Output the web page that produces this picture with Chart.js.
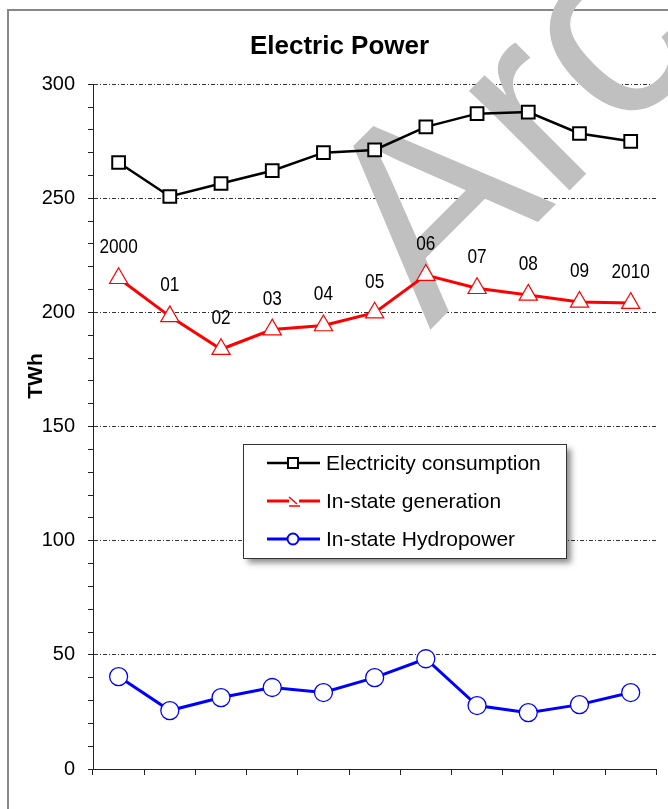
<!DOCTYPE html>
<html>
<head>
<meta charset="utf-8">
<script src="https://cdn.jsdelivr.net/npm/chart.js@4.4.1/dist/chart.umd.min.js"></script>
<style>
  body { margin: 0; background: #fff; }
  canvas { display: block; }
</style>
</head>
<body>
<canvas id="powerChart" width="668" height="809"></canvas>
<script>
const years = ['2000', '01', '02', '03', '04', '05', '06', '07', '08', '09', '2010'];
const consumption = [265.7, 250.8, 256.5, 262.1, 270.0, 271.2, 281.3, 287.1, 287.8, 278.4, 275.0];
const generation = [215.0, 198.3, 183.9, 192.5, 194.3, 199.9, 216.4, 210.6, 207.7, 204.6, 204.1];
const hydropower = [40.5, 25.6, 31.3, 35.7, 33.5, 40.0, 48.3, 27.8, 24.7, 28.2, 33.5];
const yLabels = [0, 50, 100, 150, 200, 250, 300];

const FONT = '"Liberation Sans", Arial, sans-serif';
Chart.defaults.font.family = FONT;
Chart.defaults.color = '#000';

// white page + the grey frame around the chart
const framePlugin = {
  id: 'frame',
  beforeDraw(chart) {
    const ctx = chart.ctx;
    ctx.save();
    ctx.fillStyle = '#fff';
    ctx.fillRect(0, 0, chart.width, chart.height);
    ctx.fillStyle = '#888';
    ctx.fillRect(7, 9, chart.width - 7, 2);
    ctx.fillRect(7, 9, 2, chart.height - 9);
    ctx.restore();
  }
};

// grey "Arc" stamp behind the lines
const stampPlugin = {
  id: 'stamp',
  beforeDatasetsDraw(chart) {
    const ctx = chart.ctx;
    ctx.save();
    ctx.translate(430, 330);
    ctx.rotate(-Math.PI / 4);
    ctx.fillStyle = '#c0c0c0';
    ctx.font = '268px ' + FONT;
    ctx.textBaseline = 'alphabetic';
    ctx.fillText('Arc', 0, 0);
    ctx.restore();
  }
};

// year labels over the generation points, and the y axis title
const labelPlugin = {
  id: 'yearLabels',
  afterDatasetsDraw(chart) {
    const ctx = chart.ctx;
    const meta = chart.getDatasetMeta(1);
    ctx.save();
    ctx.fillStyle = '#000';
    ctx.font = '21px ' + FONT;
    ctx.textAlign = 'center';
    ctx.textBaseline = 'alphabetic';
    meta.data.forEach((pt, i) => {
      ctx.save();
      ctx.translate(pt.x, pt.y - 25);
      ctx.scale(0.82, 1);
      ctx.fillText(years[i], 0, 0);
      ctx.restore();
    });
    ctx.translate(36, 376);
    ctx.rotate(-Math.PI / 2);
    ctx.font = 'bold 21px ' + FONT;
    ctx.textBaseline = 'middle';
    ctx.fillText('TWh', 0, 0);
    ctx.restore();
  }
};

// boxed legend inside the plot, with drop shadow
const legendPlugin = {
  id: 'boxLegend',
  afterDraw(chart) {
    const ctx = chart.ctx;
    const bx = 243, by = 444, bw = 323, bh = 114;
    ctx.save();
    ctx.shadowColor = 'rgba(0,0,0,0.45)';
    ctx.shadowBlur = 6;
    ctx.shadowOffsetX = 5;
    ctx.shadowOffsetY = 5;
    ctx.fillStyle = '#fff';
    ctx.fillRect(bx, by, bw, bh);
    ctx.restore();
    ctx.save();
    ctx.strokeStyle = '#333';
    ctx.lineWidth = 1;
    ctx.strokeRect(bx + 0.5, by + 0.5, bw, bh);
    ctx.font = '21px ' + FONT;
    ctx.textBaseline = 'middle';
    ctx.fillStyle = '#000';
    chart.data.datasets.forEach((ds, i) => {
      const y = 463 + i * 38;
      ctx.strokeStyle = ds.borderColor;
      ctx.lineWidth = ds.borderWidth;
      if (ds.pointStyle === 'triangle') {
        ctx.beginPath();
        ctx.moveTo(267, y); ctx.lineTo(289, y);
        ctx.moveTo(299, y); ctx.lineTo(320, y);
        ctx.stroke();
        ctx.lineWidth = 1.5;
        ctx.beginPath();
        ctx.moveTo(289, y - 4); ctx.lineTo(297, y + 3);
        ctx.moveTo(289, y + 5); ctx.lineTo(300, y + 5);
        ctx.stroke();
      } else {
        ctx.beginPath();
        ctx.moveTo(267, y); ctx.lineTo(320, y);
        ctx.stroke();
        ctx.fillStyle = '#fff';
        ctx.lineWidth = 2;
        ctx.beginPath();
        if (ds.pointStyle === 'rect') ctx.rect(288, y - 5, 10, 10);
        else ctx.arc(293, y, 5.5, 0, Math.PI * 2);
        ctx.fill();
        ctx.stroke();
      }
      ctx.fillStyle = '#000';
      ctx.fillText(ds.label, 326, y + 1);
    });
    ctx.restore();
  }
};

new Chart(document.getElementById('powerChart'), {
  type: 'line',
  data: {
    labels: years,
    datasets: [
      {
        label: 'Electricity consumption',
        data: consumption,
        borderColor: '#000',
        borderWidth: 2.5,
        pointStyle: 'rect',
        pointRadius: 9,
        pointBorderWidth: 2,
        pointBackgroundColor: '#fff',
        pointBorderColor: '#000'
      },
      {
        label: 'In-state generation',
        data: generation,
        borderColor: '#ff0000',
        borderWidth: 3,
        pointStyle: 'triangle',
        pointRadius: 10.5,
        pointBorderWidth: 1.2,
        pointBackgroundColor: '#fff',
        pointBorderColor: '#ff0000'
      },
      {
        label: 'In-state Hydropower',
        data: hydropower,
        borderColor: '#0000ff',
        borderWidth: 3,
        pointStyle: 'circle',
        pointRadius: 9,
        pointBorderWidth: 1.3,
        pointBackgroundColor: '#fff',
        pointBorderColor: '#0000ff'
      }
    ]
  },
  options: {
    responsive: false,
    animation: false,
    layout: { padding: { left: 20, right: 9, top: 0, bottom: 34 } },
    plugins: {
      legend: { display: false },
      tooltip: { enabled: false },
      title: {
        display: true,
        text: 'Electric Power',
        color: '#000',
        font: { size: 26, weight: 'bold', family: FONT },
        padding: { top: 31, bottom: 22 }
      }
    },
    scales: {
      x: {
        offset: true,
        ticks: { display: false },
        grid: { offset: true, drawOnChartArea: false, tickLength: 6, tickColor: '#222', color: '#222' },
        border: { color: '#222', width: 1 },
        afterFit(scale) { scale.height = 6; }
      },
      y: {
        min: 0,
        max: 300,
        ticks: {
          stepSize: 10,
          autoSkip: false,
          padding: 13,
          color: '#000',
          font: { size: 20 },
          callback: v => yLabels.includes(v) ? v : ''
        },
        grid: {
          color: c => (c.tick && c.tick.value % 50 === 0) ? '#333' : 'rgba(0,0,0,0)',
          tickColor: '#222',
          tickLength: 5,
          tickBorderDash: [],
          lineWidth: 1
        },
        border: { color: '#222', width: 1, dash: [4, 2, 1, 2] },
        afterFit(scale) { scale.width = 73; }
      }
    }
  },
  plugins: [framePlugin, stampPlugin, labelPlugin, legendPlugin]
});
</script>
</body>
</html>
